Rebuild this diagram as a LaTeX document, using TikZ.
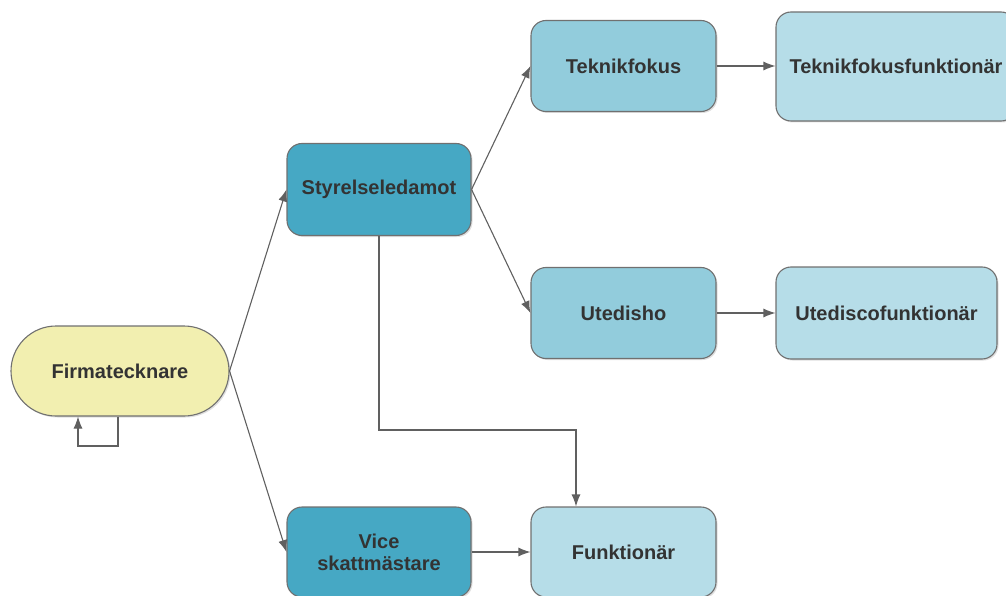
\documentclass[tikz,border=0pt]{standalone}
\usepackage{fontspec}
\setmainfont{Liberation Sans}
\usetikzlibrary{arrows.meta,shadows}
\definecolor{cdark}{HTML}{46A8C4}
\definecolor{cmid}{HTML}{92CCDC}
\definecolor{clight}{HTML}{B6DDE8}
\definecolor{cyel}{HTML}{F2EFB0}
\definecolor{cstroke}{HTML}{707070}
\definecolor{cline}{HTML}{606060}
\definecolor{ctext}{HTML}{333333}
\begin{document}
\begin{tikzpicture}[x=1pt,y=-1pt,
  box/.style={draw=cstroke, line width=1.1pt, rounded corners=15pt, inner sep=0pt,
    font=\fontsize{20}{22}\selectfont\bfseries, text=ctext, align=center,
    drop shadow={shadow xshift=1.5pt, shadow yshift=-1.5pt, opacity=0.25}},
  dark/.style={box, fill=cdark, minimum width=184pt, minimum height=92pt},
  mid/.style={box, fill=cmid, minimum width=185pt, minimum height=91pt},
  light/.style={box, fill=clight},
  firmbox/.style={box, fill=cyel, rounded corners=45pt, minimum width=218pt, minimum height=90pt},
  arr/.style={draw=cline, line width=1.1pt, -{Latex[length=12pt,width=9pt]}}]
\useasboundingbox (0,0) rectangle (1006,596);
\node[firmbox] (firm) at (120,371) {Firmatecknare};
\node[dark] (sty) at (379,189.5) {Styrelseledamot};
\node[mid] (tek) at (623.5,66) {Teknikfokus};
\node[light, minimum width=240pt, minimum height=109pt] (tekf) at (896,66.5) {Teknikfokusfunktionär};
\node[mid] (ute) at (623.5,313) {Utedisho};
\node[light, minimum width=221pt, minimum height=92pt] (utef) at (886.5,313) {Utediscofunktionär};
\node[dark, minimum height=90pt] (vice) at (379,552) {Vice\\skattmästare};
\node[light, minimum width=185pt, minimum height=90pt] (funk) at (623.5,552) {Funktionär};
\coordinate (j1) at (379,430);
\coordinate (j2) at (576,430);
\coordinate (l1) at (118,446);
\coordinate (l2) at (78,446);
\draw[arr] (firm.east) -- (sty.west);
\draw[arr] (firm.east) -- (vice.west);
\draw[arr] (sty.east) -- (tek.west);
\draw[arr] (sty.east) -- (ute.west);
\draw[arr] (tek.east) -- (tek.east -| tekf.west);
\draw[arr] (ute.east) -- (utef.west);
\draw[arr] (vice.east) -- (funk.west);
\draw[arr] (sty.south) -- (j1) -- (j2) -- (j2 |- funk.north);
\draw[arr] (l1 |- firm.south) -- (l1) -- (l2) -- (l2 |- firm.south);
\end{tikzpicture}
\end{document}
